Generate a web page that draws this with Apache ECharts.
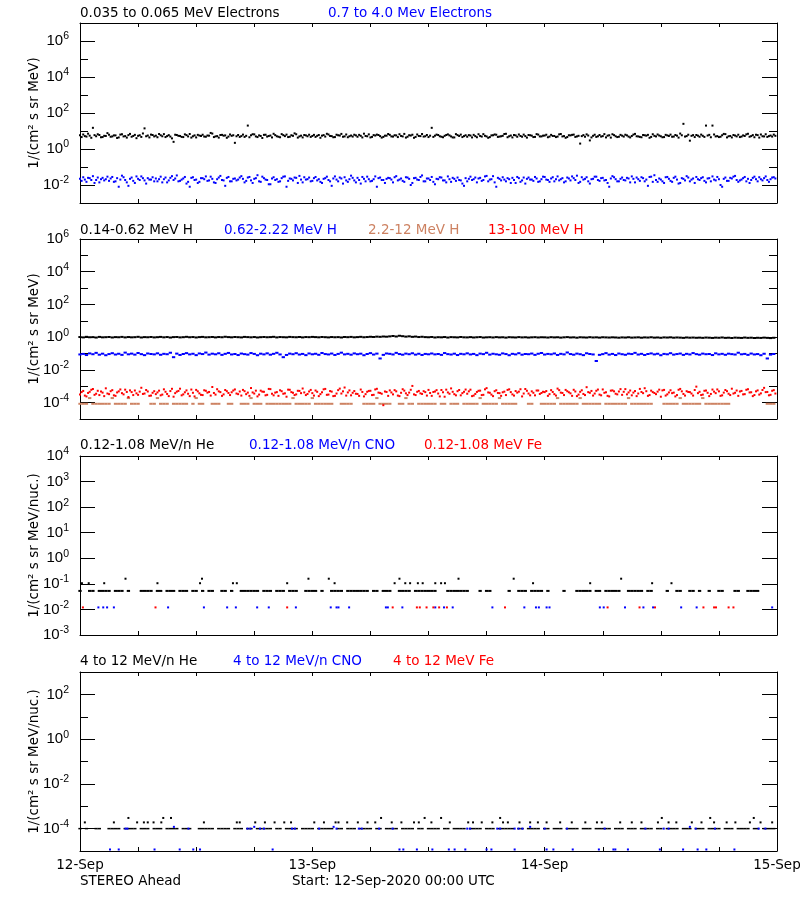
<!DOCTYPE html>
<html>
<head>
<meta charset="utf-8">
<script src="https://cdn.jsdelivr.net/npm/echarts@6/dist/echarts.min.js"></script>
<style>html,body{margin:0;padding:0;background:#fff}#chart{width:800px;height:900px}</style>
</head>
<body>
<div id="chart"></div>
<script>
// ---- time base: samples start 12-Sep-2020 00:00 UTC; x axis is hours since start ----
const FAST_STEP_HOURS = 10 / 60;   // 10-minute samples
const STEP_HOURS = 20 / 60;        // 20-minute samples
const dayLabels = ['12-Sep', '13-Sep', '14-Sep', '15-Sep'];

// ---- Panel 1: electrons (10-minute samples) ----
const eLow = [ // 0.035 to 0.065 MeV Electrons
5.8,4.6,6.4,5.2,4.9,7.1,5.5,4.2,15,5.9,5.1,6.6,6.0,4.5,4.6,5.4,5.3,7.6,6.2,4.8,5.0,5.7,5.7,4.1,
4.4,6.3,6.6,5.0,5.2,4.3,5.9,6.9,4.8,5.3,6.1,4.0,5.4,5.8,4.7,7.3,14,5.1,5.6,4.4,6.3,6.0,5.0,5.5,
4.5,6.8,5.8,5.1,6.7,4.6,5.2,5.9,4.9,3.9,2.5,6.2,6.0,5.4,5.3,4.7,4.6,6.5,5.9,5.0,6.8,4.3,5.1,5.7,
4.4,6.1,5.6,5.3,6.2,4.9,4.8,5.6,5.5,7.8,7.2,4.6,5.0,5.2,4.3,6.0,6.1,5.5,5.7,4.2,4.9,6.4,5.4,5.8,
2.2,5.1,6.0,4.7,5.2,6.3,4.7,5.4,20,4.5,5.8,6.6,6.5,5.0,4.6,5.7,5.3,4.1,6.1,6.2,4.9,5.3,5.6,4.4,
7.0,5.9,5.1,4.8,4.5,6.7,5.9,5.2,6.3,4.6,4.8,5.8,5.4,7.4,6.6,4.3,5.0,5.5,4.4,6.0,5.7,5.1,6.2,4.7,
5.3,6.1,4.7,5.4,6.0,4.2,5.5,5.9,4.9,7.0,6.4,5.3,5.2,4.5,4.6,6.2,5.8,5.6,6.9,4.8,5.0,6.4,4.5,5.1,
5.6,4.9,6.2,5.7,4.8,6.1,5.4,4.4,7.1,5.3,5.1,6.5,4.4,4.7,5.9,5.6,6.3,6.0,5.2,4.3,4.7,5.5,5.5,6.8,
6.1,5.0,4.9,5.8,5.7,4.6,6.6,5.3,5.0,6.9,4.3,4.8,5.8,5.6,6.2,4.2,4.7,6.4,5.3,5.2,6.8,4.9,5.1,6.0,
4.6,5.5,15,4.7,5.5,6.3,6.0,5.1,4.8,4.5,5.4,6.0,6.5,5.7,5.0,4.4,4.4,6.7,5.9,5.3,6.3,4.6,5.2,5.8,
4.8,5.9,5.6,4.4,6.1,5.2,4.5,6.6,5.3,4.9,6.7,5.4,5.0,4.2,4.6,5.7,5.8,6.4,6.2,4.7,4.9,5.1,5.4,6.8,
7.0,4.5,5.1,5.6,4.4,6.0,5.7,4.8,6.4,5.3,4.8,6.3,5.2,4.3,6.0,5.8,5.5,4.6,4.7,6.7,6.3,5.0,5.0,5.5,
5.6,6.2,4.5,4.9,6.1,5.3,5.3,4.6,4.9,6.5,6.8,5.0,5.2,4.2,4.6,5.8,5.7,6.1,6.3,4.7,5.0,5.4,2.0,5.2,
5.9,4.8,6.5,5.6,3.0,4.4,5.4,6.2,4.7,5.1,6.0,4.9,5.2,6.7,4.4,5.5,5.8,4.3,6.6,5.9,5.1,4.6,4.8,6.1,
5.5,4.9,6.2,5.7,4.9,4.4,5.3,6.3,6.9,5.1,5.0,4.7,4.5,6.0,5.8,5.5,6.1,4.2,4.7,6.6,5.4,5.0,6.4,5.6,
5.1,4.5,4.6,6.1,5.7,5.3,6.3,4.8,4.9,6.0,5.5,4.3,7.2,5.8,25,4.9,5.2,6.2,2.9,5.4,5.9,4.6,6.0,5.5,
4.8,6.3,5.4,4.7,20,5.6,6.1,4.5,20,6.4,5.0,5.2,4.6,4.8,5.8,6.9,6.7,4.4,5.1,5.3,4.4,6.0,5.6,5.0,
6.2,4.6,4.9,5.7,5.3,6.5,7.0,4.8,5.2,5.9,4.5,6.2,5.9,4.3,6.4,5.1,5.0,6.6,4.7,5.2,5.6,4.9,6.3,5.4];
const eHigh = [ // 0.7 to 4.0 MeV Electrons
.022,.017,.027,.020,.015,.025,.024,.019,.031,.013,.019,.026,.014,.021,.025,.018,.021,.029,.017,.023,.028,.015,.016,.024,
.008,.020,.033,.027,.019,.014,.009,.022,.026,.017,.013,.030,.022,.019,.030,.024,.018,.012,.024,.020,.020,.027,.016,.023,
.016,.021,.029,.014,.021,.026,.014,.018,.025,.031,.019,.023,.034,.016,.017,.020,.023,.028,.012,.015,.008,.025,.027,.019,
.020,.013,.015,.024,.024,.021,.030,.017,.018,.029,.022,.014,.013,.021,.026,.032,.019,.018,.009,.025,.028,.016,.016,.022,
.023,.018,.020,.026,.031,.022,.014,.017,.026,.028,.018,.013,.022,.024,.035,.016,.015,.029,.024,.020,.019,.011,.011,.023,
.027,.019,.021,.015,.016,.024,.029,.030,.008,.017,.023,.022,.018,.026,.025,.013,.032,.020,.014,.027,.020,.021,.026,.016,
.017,.024,.028,.018,.021,.015,.013,.022,.024,.029,.019,.016,.009,.023,.030,.020,.016,.026,.023,.012,.027,.018,.015,.021,
.033,.025,.018,.014,.025,.019,.012,.028,.022,.016,.029,.021,.016,.017,.021,.030,.008,.024,.026,.019,.019,.013,.022,.025,
.024,.020,.014,.027,.031,.018,.020,.023,.017,.015,.027,.026,.022,.010,.013,.024,.025,.020,.019,.028,.034,.016,.016,.023,
.023,.019,.028,.015,.011,.022,.021,.027,.026,.018,.018,.014,.030,.021,.015,.025,.022,.017,.026,.019,.018,.012,.009,.024,
.016,.022,.029,.019,.021,.026,.014,.023,.025,.017,.019,.030,.032,.016,.020,.021,.031,.014,.008,.025,.022,.018,.027,.020,
.016,.024,.021,.013,.025,.019,.013,.028,.024,.015,.018,.026,.012,.022,.026,.020,.020,.017,.028,.023,.015,.016,.021,.029,
.028,.020,.019,.015,.023,.027,.016,.021,.030,.018,.021,.024,.014,.016,.026,.023,.018,.030,.024,.019,.033,.013,.015,.027,
.020,.022,.027,.016,.012,.021,.022,.029,.029,.019,.017,.024,.025,.018,.019,.013,.008,.023,.031,.027,.021,.016,.016,.022,
.026,.019,.018,.025,.023,.014,.030,.022,.014,.026,.021,.017,.027,.024,.016,.020,.009,.028,.029,.015,.035,.019,.015,.023,
.020,.016,.013,.027,.028,.022,.017,.015,.025,.029,.020,.012,.013,.024,.022,.018,.031,.026,.016,.020,.023,.013,.028,.021,
.019,.024,.027,.017,.014,.023,.024,.016,.030,.020,.018,.028,.021,.010,.008,.022,.026,.017,.017,.025,.023,.029,.032,.019,
.015,.018,.020,.024,.028,.016,.022,.013,.019,.025,.029,.021,.016,.027,.021,.018,.024,.030,.019,.015,.021,.026,.027,.023];

// ---- Panel 2: protons ----
const hLow = [ // 0.14-0.62 MeV H (20-minute samples)
1.02,0.97,1.05,0.99,1.01,0.95,1.04,0.98,1.00,1.03,0.96,1.01,0.99,1.04,0.97,1.02,0.98,1.00,1.05,0.96,1.01,0.99,1.03,0.97,
1.00,1.04,0.98,1.02,0.95,1.01,1.03,0.97,1.00,1.05,0.99,1.02,0.96,1.01,1.04,0.98,1.00,1.03,0.97,1.02,0.99,1.06,1.01,0.98,
1.03,1.00,0.97,1.04,1.01,0.98,1.02,0.96,1.00,1.03,0.99,1.01,1.05,0.97,1.02,1.00,0.98,1.04,1.01,0.99,1.03,0.97,1.02,1.00,
1.04,1.01,0.98,1.03,1.00,0.97,1.02,0.99,1.01,0.96,1.03,1.00,1.04,0.98,1.01,1.05,0.99,1.02,1.06,1.03,1.08,1.05,1.10,1.07,
1.12,1.18,1.10,1.22,1.15,1.08,1.13,1.05,1.09,1.02,1.06,1.01,0.99,1.03,0.96,1.00,0.98,1.02,0.95,1.01,0.99,0.97,1.03,0.98,
0.97,1.01,0.96,0.99,1.02,0.95,0.98,1.00,0.96,1.01,0.97,0.99,0.94,1.00,0.98,0.96,1.01,0.97,0.99,0.95,0.98,1.00,0.96,0.99,
0.98,0.95,1.00,0.97,0.99,0.94,0.98,1.01,0.96,0.98,0.93,0.99,0.97,0.95,1.00,0.96,0.98,0.94,0.99,0.97,0.95,0.98,0.96,0.93,
0.97,0.95,0.99,0.94,0.96,0.98,0.93,0.97,0.95,0.99,0.94,0.96,0.92,0.97,0.95,0.98,0.93,0.96,0.94,0.91,0.96,0.93,0.95,0.92,
0.94,0.91,0.95,0.93,0.90,0.94,0.92,0.96,0.91,0.93,0.89,0.94,0.92,0.90,0.95,0.91,0.93,0.89,0.92,0.90,0.94,0.91,0.88,0.92];
const hMid = [ // 0.62-2.22 MeV H (20-minute samples)
.088,.095,.081,.102,.091,.110,.085,.098,.079,.093,.105,.087,.097,.083,.114,.090,.099,.086,.108,.092,.080,.101,.094,.089,
.103,.084,.096,.091,.112,.060,.099,.082,.094,.106,.089,.097,.080,.101,.093,.115,.086,.098,.090,.104,.083,.096,.109,.088,
.094,.081,.100,.092,.086,.107,.095,.079,.098,.089,.103,.085,.096,.111,.088,.060,.082,.099,.091,.105,.087,.095,.080,.101,
.090,.097,.084,.108,.093,.088,.100,.082,.095,.113,.089,.096,.085,.102,.091,.098,.079,.094,.106,.087,.099,.050,.083,.101,
.096,.088,.110,.093,.085,.099,.091,.104,.086,.097,.082,.095,.090,.101,.089,.094,.083,.107,.092,.087,.098,.081,.096,.090,
.103,.088,.095,.080,.099,.092,.111,.086,.097,.090,.084,.102,.093,.079,.096,.089,.105,.085,.094,.091,.100,.083,.097,.108,
.087,.095,.090,.101,.082,.096,.089,.116,.093,.085,.099,.091,.080,.104,.094,.088,.035,.083,.092,.106,.086,.095,.081,.100,
.091,.084,.098,.093,.110,.087,.096,.082,.094,.102,.089,.097,.079,.095,.090,.105,.086,.093,.100,.083,.096,.088,.107,.092,
.085,.099,.091,.094,.081,.103,.089,.096,.084,.098,.092,.087,.112,.090,.095,.083,.100,.088,.093,.079,.097,.050,.086,.094];
const hHigh = [ // 2.2-12 MeV H (20-minute samples, null = no counts)
8.5e-5,8.5e-5,8.5e-5,1.9e-4,8.5e-5,8.5e-5,8.5e-5,8.5e-5,8.5e-5,8.5e-5,1.9e-4,8.5e-5,8.5e-5,8.5e-5,8.5e-5,1.9e-4,8.5e-5,8.5e-5,8.5e-5,null,null,null,8.5e-5,8.5e-5,
1.9e-4,8.5e-5,8.5e-5,8.5e-5,null,8.5e-5,8.5e-5,8.5e-5,8.5e-5,8.5e-5,null,8.5e-5,1.9e-4,8.5e-5,8.5e-5,null,null,8.5e-5,8.5e-5,8.5e-5,null,null,8.5e-5,8.5e-5,
null,null,8.5e-5,8.5e-5,8.5e-5,1.9e-4,8.5e-5,8.5e-5,8.5e-5,null,8.5e-5,8.5e-5,8.5e-5,8.5e-5,8.5e-5,8.5e-5,8.5e-5,8.5e-5,1.9e-4,8.5e-5,8.5e-5,8.5e-5,8.5e-5,8.5e-5,
1.9e-4,8.5e-5,8.5e-5,8.5e-5,8.5e-5,8.5e-5,8.5e-5,null,null,8.5e-5,8.5e-5,8.5e-5,8.5e-5,null,null,null,8.5e-5,8.5e-5,8.5e-5,8.5e-5,1.9e-4,8.5e-5,8.5e-5,8.5e-5,
8.5e-5,null,null,8.5e-5,8.5e-5,1.9e-4,8.5e-5,8.5e-5,null,8.5e-5,8.5e-5,8.5e-5,8.5e-5,8.5e-5,8.5e-5,null,8.5e-5,8.5e-5,null,8.5e-5,8.5e-5,8.5e-5,null,8.5e-5,
8.5e-5,8.5e-5,8.5e-5,8.5e-5,1.9e-4,8.5e-5,8.5e-5,8.5e-5,8.5e-5,8.5e-5,1.9e-4,8.5e-5,8.5e-5,8.5e-5,8.5e-5,8.5e-5,null,null,null,8.5e-5,8.5e-5,null,null,8.5e-5,
8.5e-5,8.5e-5,8.5e-5,8.5e-5,1.9e-4,8.5e-5,8.5e-5,8.5e-5,8.5e-5,8.5e-5,8.5e-5,1.9e-4,8.5e-5,8.5e-5,8.5e-5,8.5e-5,8.5e-5,8.5e-5,null,8.5e-5,8.5e-5,8.5e-5,8.5e-5,8.5e-5,
8.5e-5,8.5e-5,1.9e-4,8.5e-5,8.5e-5,8.5e-5,8.5e-5,8.5e-5,8.5e-5,8.5e-5,null,null,null,8.5e-5,8.5e-5,8.5e-5,8.5e-5,8.5e-5,1.9e-4,8.5e-5,8.5e-5,8.5e-5,8.5e-5,8.5e-5,
8.5e-5,1.9e-4,8.5e-5,8.5e-5,8.5e-5,8.5e-5,8.5e-5,8.5e-5,8.5e-5,8.5e-5,null,null,null,null,null,null,null,null,null,null,null,8.5e-5,8.5e-5,8.5e-5];
const hVeryHigh = [ // 13-100 MeV H (10-minute samples)
3.1e-4,4.4e-4,5.2e-4,2.7e-4,2.4e-4,3.9e-4,4.6e-4,6.1e-4,6.8e-4,3.0e-4,3.5e-4,5.3e-4,2.9e-4,4.8e-4,4.1e-4,2.5e-4,7.5e-4,3.6e-4,3.3e-4,5.0e-4,5.8e-4,2.8e-4,2.6e-4,4.2e-4,
4.9e-4,6.4e-4,3.8e-4,3.2e-4,6.2e-4,4.5e-4,2.2e-4,5.6e-4,4.4e-4,2.9e-4,5.5e-4,3.7e-4,3.0e-4,4.7e-4,8.1e-4,3.4e-4,3.6e-4,5.9e-4,4.8e-4,2.6e-4,2.7e-4,4.0e-4,5.0e-4,3.3e-4,
4.2e-4,5.4e-4,2.8e-4,3.1e-4,6.5e-4,4.6e-4,3.4e-4,2.5e-4,5.1e-4,7.0e-4,2.3e-4,3.8e-4,4.7e-4,5.2e-4,7.1e-4,2.8e-4,3.2e-4,4.3e-4,5.6e-4,3.5e-4,2.5e-4,6.3e-4,4.0e-4,2.4e-4,
6.0e-4,4.9e-4,3.7e-4,3.0e-4,2.9e-4,5.7e-4,5.3e-4,4.1e-4,4.5e-4,2.7e-4,9.0e-4,3.9e-4,3.1e-4,6.6e-4,4.9e-4,4.4e-4,2.6e-4,3.2e-4,5.9e-4,5.0e-4,3.9e-4,2.9e-4,4.3e-4,5.5e-4,
6.4e-4,3.6e-4,3.3e-4,4.8e-4,2.7e-4,6.0e-4,5.0e-4,3.3e-4,4.1e-4,2.6e-4,7.8e-4,4.2e-4,3.6e-4,5.4e-4,2.4e-4,3.1e-4,5.4e-4,4.7e-4,4.6e-4,2.8e-4,3.0e-4,6.9e-4,6.7e-4,3.5e-4,
2.8e-4,4.1e-4,4.4e-4,2.6e-4,5.7e-4,5.0e-4,3.5e-4,3.7e-4,2.3e-4,6.2e-4,6.1e-4,4.4e-4,4.0e-4,2.9e-4,3.2e-4,5.3e-4,5.2e-4,3.8e-4,7.3e-4,4.2e-4,2.9e-4,3.4e-4,4.8e-4,6.0e-4,
3.8e-4,2.7e-4,5.5e-4,4.6e-4,2.5e-4,3.3e-4,4.3e-4,6.5e-4,6.9e-4,3.0e-4,3.1e-4,5.1e-4,4.7e-4,2.5e-4,2.6e-4,3.6e-4,5.8e-4,7.2e-4,3.6e-4,4.9e-4,8.4e-4,2.7e-4,4.2e-4,5.6e-4,
2.8e-4,4.0e-4,5.1e-4,3.5e-4,3.4e-4,2.6e-4,6.3e-4,4.5e-4,2.4e-4,3.3e-4,4.6e-4,5.2e-4,5.3e-4,2.9e-4,3.0e-4,6.4e-4,7.0e-4,4.1e-4,3.9e-4,3.5e-4,7.0e-5,4.8e-4,4.5e-4,2.6e-4,
5.6e-4,4.2e-4,3.2e-4,5.8e-4,4.9e-4,2.7e-4,2.5e-4,4.0e-4,6.6e-4,5.4e-4,3.7e-4,2.9e-4,4.1e-4,6.1e-4,1.05e-3,3.2e-4,2.9e-4,4.6e-4,5.2e-4,3.7e-4,3.4e-4,5.0e-4,4.4e-4,2.7e-4,
6.0e-4,3.9e-4,2.6e-4,4.5e-4,4.8e-4,5.8e-4,3.6e-4,2.4e-4,5.9e-4,4.3e-4,2.3e-4,6.2e-4,4.2e-4,3.5e-4,7.4e-4,4.6e-4,3.3e-4,2.8e-4,5.0e-4,5.9e-4,2.8e-4,3.8e-4,4.6e-4,6.3e-4,
3.5e-4,4.9e-4,6.2e-4,2.5e-4,2.7e-4,3.4e-4,4.5e-4,5.3e-4,5.4e-4,2.9e-4,3.0e-4,6.5e-4,7.7e-4,4.2e-4,4.0e-4,3.1e-4,2.5e-4,5.0e-4,5.7e-4,3.9e-4,3.8e-4,2.6e-4,4.3e-4,4.7e-4,
2.9e-4,6.0e-4,6.5e-4,4.4e-4,3.2e-4,2.7e-4,5.1e-4,4.1e-4,4.7e-4,6.6e-4,2.4e-4,3.6e-4,6.8e-4,5.3e-4,3.6e-4,2.8e-4,4.9e-4,4.0e-4,2.8e-4,5.5e-4,5.5e-4,3.4e-4,3.9e-4,4.6e-4,
4.4e-4,5.1e-4,2.6e-4,3.3e-4,5.8e-4,4.5e-4,3.3e-4,2.7e-4,7.2e-4,5.8e-4,4.1e-4,3.9e-4,2.9e-4,6.0e-4,5.0e-4,4.3e-4,3.7e-4,2.6e-4,6.1e-4,4.8e-4,2.5e-4,3.1e-4,4.6e-4,5.7e-4,
3.4e-4,2.9e-4,8.8e-4,4.4e-4,4.0e-4,5.2e-4,2.7e-4,3.6e-4,5.3e-4,6.3e-4,3.1e-4,2.8e-4,6.4e-4,4.0e-4,4.3e-4,2.6e-4,2.4e-4,5.4e-4,5.6e-4,4.9e-4,3.5e-4,3.2e-4,4.8e-4,6.7e-4,
3.0e-4,4.6e-4,6.7e-4,3.2e-4,4.2e-4,5.5e-4,2.8e-4,4.1e-4,5.1e-4,2.5e-4,3.6e-4,6.9e-4,4.5e-4,3.8e-4,7.6e-4,5.0e-4,2.6e-4,2.9e-4,5.4e-4,4.4e-4,3.9e-4,3.3e-4,4.7e-4,6.2e-4,
2.3e-4,5.6e-4,6.0e-4,2.7e-4,3.2e-4,4.2e-4,5.7e-4,3.8e-4,4.1e-4,2.4e-4,2.9e-4,6.1e-4,6.9e-4,4.9e-4,3.4e-4,2.7e-4,5.0e-4,4.5e-4,4.4e-4,3.6e-4,2.7e-4,5.9e-4,9.5e-4,3.8e-4,
4.6e-4,2.9e-4,3.1e-4,5.3e-4,5.5e-4,4.0e-4,2.5e-4,3.4e-4,6.3e-4,4.7e-4,3.8e-4,6.4e-4,4.9e-4,2.6e-4,2.8e-4,4.1e-4,5.9e-4,5.0e-4,3.5e-4,2.9e-4,7.1e-4,3.6e-4,4.0e-4,5.5e-4,
2.6e-4,4.8e-4,5.2e-4,3.2e-4,3.3e-4,6.1e-4,6.6e-4,4.2e-4,4.3e-4,2.5e-4,2.9e-4,4.9e-4,5.6e-4,3.1e-4,3.7e-4,5.9e-4,8.0e-4,4.4e-4,4.5e-4,2.8e-4,3.0e-4,5.3e-4,5.8e-4,3.6e-4];

// ---- Panel 3: 0.12-1.08 MeV/n heavy ions ----
const heLow = [ // 0.12-1.08 MeV/n He, 20-minute samples (null = no counts)
.053,null,null,.053,.053,null,.053,.053,.053,.053,null,.053,.053,.053,null,.053,null,null,null,.053,.053,.053,.053,null,
.053,.053,null,.053,.053,.053,null,.053,.053,.053,null,.053,.053,null,.053,null,.053,.053,null,null,.053,.053,null,.053,
null,null,.053,.053,.053,.053,.053,.053,null,.053,.053,.053,null,.053,.053,.053,null,.053,.053,.053,null,null,.053,.053,
.053,.053,null,.053,null,null,.053,.053,.053,.053,null,.053,.053,.053,.053,.053,.053,.053,null,.053,.053,null,.053,.053,
.053,null,null,.053,.053,.053,.053,null,.053,.053,.053,.053,.053,.053,.053,null,null,null,.053,.053,.053,.053,.053,.053,
.053,null,null,null,.053,null,.053,.053,null,null,null,null,null,.053,null,null,.053,.053,.053,null,.053,.053,.053,.053,
null,.053,null,null,null,null,.053,null,null,null,.053,.053,.053,.053,.053,null,.053,.053,null,.053,.053,.053,.053,.053,
null,null,.053,.053,.053,.053,.053,null,.053,.053,null,null,null,null,.053,null,null,.053,.053,null,null,.053,.053,null,
.053,null,null,.053,null,null,.053,.053,null,null,null,.053,.053,null,null,.053,.053,.053,.053,null,null,null,null,null];
const heLowExtraHours = [0.2,0.9,2.5,8.0,12.4,15.8,16.2,21.4,26.3,32.5,33.6,34.1,34.9,35.4,36.7,37.3,37.7,46.8,52.7,59.1,61.1,
  4.7,12.6,23.6,25.7,33.0,39.1,44.8,55.9];
const heLowExtraVals = [.106,.106,.106,.106,.106,.106,.106,.106,.106,.106,.106,.106,.106,.106,.106,.106,.106,.106,.106,.106,.106,
  .159,.159,.159,.159,.159,.159,.159,.159];
const cnoLowHours = [1.9,2.4,2.8,3.5,9.1,12.8,15.2,16.1,18.3,19.5,22.3,25.9,26.5,26.7,27.8,31.6,31.8,33.3,36.7,37.6,
  38.5,42.6,45.9,47.1,47.4,48.2,48.5,53.7,54.1,56.3,58.2,59.2,62.1,63.7,71.5];
const cnoLowVals = [.012,.012,.012,.012,.012,.012,.012,.012,.012,.012,.012,.012,.012,.012,.012,.012,.012,.012,.012,.012,
  .012,.012,.012,.012,.012,.012,.012,.012,.012,.012,.012,.012,.012,.012,.012];
const feLowHours = [0.3,7.8,21.4,32.3,34.8,35.1,35.8,36.5,37.1,37.9,43.9,54.5,57.8,59.4,64.4,65.5,65.7,67.0,67.5];
const feLowVals = [.012,.012,.012,.012,.012,.012,.012,.012,.012,.012,.012,.012,.012,.012,.012,.012,.012,.012,.012];

// ---- Panel 4: 4 to 12 MeV/n heavy ions ----
const heHigh = [ // 4 to 12 MeV/n He, 20-minute samples (null = no counts)
1e-4,null,1e-4,null,null,1e-4,1e-4,null,null,1e-4,1e-4,1e-4,1e-4,null,1e-4,1e-4,1e-4,1e-4,null,1e-4,1e-4,1e-4,null,1e-4,
1e-4,1e-4,null,1e-4,1e-4,1e-4,1e-4,null,1e-4,1e-4,1e-4,null,null,1e-4,1e-4,1e-4,1e-4,1e-4,null,1e-4,1e-4,1e-4,1e-4,null,
1e-4,1e-4,1e-4,null,1e-4,1e-4,null,1e-4,1e-4,1e-4,1e-4,1e-4,null,1e-4,1e-4,null,1e-4,1e-4,1e-4,1e-4,null,1e-4,1e-4,1e-4,
1e-4,null,1e-4,1e-4,1e-4,1e-4,1e-4,null,1e-4,1e-4,null,1e-4,1e-4,1e-4,null,1e-4,1e-4,1e-4,1e-4,null,1e-4,1e-4,null,1e-4,
1e-4,1e-4,1e-4,null,1e-4,1e-4,1e-4,1e-4,null,1e-4,1e-4,null,1e-4,1e-4,1e-4,1e-4,null,1e-4,1e-4,null,1e-4,1e-4,1e-4,1e-4,
null,1e-4,1e-4,1e-4,1e-4,null,1e-4,1e-4,1e-4,null,1e-4,1e-4,1e-4,1e-4,1e-4,null,1e-4,1e-4,null,1e-4,1e-4,1e-4,1e-4,null,
1e-4,1e-4,null,1e-4,1e-4,1e-4,null,1e-4,1e-4,1e-4,1e-4,null,1e-4,1e-4,1e-4,null,1e-4,1e-4,1e-4,1e-4,1e-4,null,1e-4,1e-4,
1e-4,null,1e-4,1e-4,1e-4,null,1e-4,1e-4,1e-4,1e-4,null,1e-4,1e-4,null,1e-4,1e-4,1e-4,1e-4,null,1e-4,1e-4,1e-4,null,1e-4,
1e-4,1e-4,null,1e-4,1e-4,1e-4,1e-4,null,1e-4,1e-4,1e-4,null,1e-4,1e-4,1e-4,1e-4,null,1e-4,1e-4,null,1e-4,1e-4,1e-4,1e-4];
const heHighExtraHours = [0.5,3.5,5.9,6.6,7.0,7.6,8.4,12.8,16.2,16.5,18.1,19.1,20.1,21.1,21.8,24.2,25.2,26.4,26.7,27.6,28.7,29.7,30.5,32.2,33.2,34.5,35.0,
  36.3,38.2,40.1,40.6,41.5,42.6,43.7,44.2,45.4,46.5,47.3,48.2,49.6,50.8,52.2,53.4,53.9,55.8,57.0,58.0,59.7,60.8,61.6,63.2,64.2,65.5,66.8,67.7,69.2,70.3,71.5,
  5.0,8.6,9.4,31.1,35.6,37.3,43.4,60.1,65.1,69.6];
const heHighExtraVals = [1.9e-4,1.9e-4,1.9e-4,1.9e-4,1.9e-4,1.9e-4,1.9e-4,1.9e-4,1.9e-4,1.9e-4,1.9e-4,1.9e-4,1.9e-4,1.9e-4,1.9e-4,1.9e-4,1.9e-4,1.9e-4,1.9e-4,1.9e-4,1.9e-4,1.9e-4,1.9e-4,1.9e-4,1.9e-4,1.9e-4,1.9e-4,
  1.9e-4,1.9e-4,1.9e-4,1.9e-4,1.9e-4,1.9e-4,1.9e-4,1.9e-4,1.9e-4,1.9e-4,1.9e-4,1.9e-4,1.9e-4,1.9e-4,1.9e-4,1.9e-4,1.9e-4,1.9e-4,1.9e-4,1.9e-4,1.9e-4,1.9e-4,1.9e-4,1.9e-4,1.9e-4,1.9e-4,1.9e-4,1.9e-4,1.9e-4,1.9e-4,1.9e-4,
  3e-4,3e-4,3e-4,3e-4,3e-4,3e-4,3e-4,3e-4,3e-4,3e-4];
const cnoHighHours = [3.1,4.0,7.7,10.3,11.7,12.4,19.9,33.0,33.4,34.8,36.4,38.1,38.7,39.8,42.0,42.5,44.9,48.2,48.9,50.9,53.6,55.1,55.3,56.6,59.9,62.3,63.8,64.7,67.6,
  4.7,4.9,11.2,17.3,17.6,18.6,19.0,21.9,22.2,24.7,26.5,28.8,29.1,30.9,32.3,40.0,40.3,43.1,43.4,44.9,45.3,45.7,48.0,50.3,54.2,58.4,60.3,60.8,63.6,65.6,70.1,70.8,
  9.7,18.0,26.2,46.5,63.0];
const cnoHighVals = [1.17e-5,1.17e-5,1.17e-5,1.17e-5,1.17e-5,1.17e-5,1.17e-5,1.17e-5,1.17e-5,1.17e-5,1.17e-5,1.17e-5,1.17e-5,1.17e-5,1.17e-5,1.17e-5,1.17e-5,1.17e-5,1.17e-5,1.17e-5,1.17e-5,1.17e-5,1.17e-5,1.17e-5,1.17e-5,1.17e-5,1.17e-5,1.17e-5,1.17e-5,
  1e-4,1e-4,1e-4,1e-4,1e-4,1e-4,1e-4,1e-4,1e-4,1e-4,1e-4,1e-4,1e-4,1e-4,1e-4,1e-4,1e-4,1e-4,1e-4,1e-4,1e-4,1e-4,1e-4,1e-4,1e-4,1e-4,1e-4,1e-4,1e-4,1e-4,1e-4,1e-4,
  1.2e-4,1.2e-4,1.2e-4,1.2e-4,1.2e-4];
const feHighHours = [];
const feHighVals = [];

// ---- y-axis ticks per panel ----
const p1Major = [1e-2, 1, 1e2, 1e4, 1e6], p1Minor = [1e-1, 10, 1e3, 1e5];
const p2Major = [1e-4, 1e-2, 1, 1e2, 1e4, 1e6], p2Minor = [1e-3, 1e-1, 10, 1e3, 1e5];
const p3Major = [1e-3, 1e-2, 1e-1, 1, 10, 1e2, 1e3, 1e4], p3Minor = [];
const p4Major = [1e-4, 1e-2, 1, 1e2], p4Minor = [1e-3, 1e-1, 10];

const BLACK = '#000000', BLUE = '#0000ff', RED = '#ff0000', TAN = '#cd8262';
const FONT = "'DejaVu Sans', sans-serif";
const LBL_FONT = "'Liberation Sans Narrow', 'Liberation Sans', 'DejaVu Sans', sans-serif";

const panels = [
  {top: 23, height: 180, min: 1e-3, max: 1e7, major: p1Major, minor: p1Minor, yName: '1/(cm\u00b2 s sr MeV)',
   titleY: 13, titles: [['0.035 to 0.065 MeV Electrons', 80, BLACK], ['0.7 to 4.0 Mev Electrons', 328, BLUE]]},
  {top: 239, height: 180, min: 1e-5, max: 1e6, major: p2Major, minor: p2Minor, yName: '1/(cm\u00b2 s sr MeV)',
   titleY: 230, titles: [['0.14-0.62 MeV H', 80, BLACK], ['0.62-2.22 MeV H', 224, BLUE], ['2.2-12 MeV H', 368, TAN], ['13-100 MeV H', 488, RED]]},
  {top: 456, height: 179, min: 1e-3, max: 1e4, major: p3Major, minor: p3Minor, yName: '1/(cm\u00b2 s sr MeV/nuc.)',
   titleY: 445, titles: [['0.12-1.08 MeV/n He', 80, BLACK], ['0.12-1.08 MeV/n CNO', 249, BLUE], ['0.12-1.08 MeV Fe', 424, RED]]},
  {top: 672, height: 179, min: 1e-5, max: 1e3, major: p4Major, minor: p4Minor, yName: '1/(cm\u00b2 s sr MeV/nuc.)',
   titleY: 661, titles: [['4 to 12 MeV/n He', 80, BLACK], ['4 to 12 MeV/n CNO', 233, BLUE], ['4 to 12 MeV Fe', 393, RED]]}
];

function denseData(vals, step) {
  const out = [];
  vals.forEach((v, i) => { if (v !== null) out.push([i * step, v]); });
  return out;
}
function pairData(hours, vals) { return hours.map((h, i) => [h, vals[i]]); }

const grids = [], xAxes = [], yAxes = [], graphics = [];
panels.forEach((p, g) => {
  grids.push({left: 80, right: 23, top: p.top, height: p.height, containLabel: false, outerBoundsMode: 'none'});
  const last = g === panels.length - 1;
  ['bottom', 'top'].forEach(pos => {
    xAxes.push({
      type: 'value', gridIndex: g, position: pos, min: 0, max: 72, interval: 6,
      axisLine: {show: true, onZero: false, lineStyle: {color: BLACK, width: 1}},
      axisTick: {show: true, inside: true, length: 4, lineStyle: {color: BLACK}},
      axisLabel: {show: last && pos === 'bottom', margin: 7, color: BLACK, fontFamily: FONT, fontSize: 13.5,
        showMinLabel: true, showMaxLabel: true,
        formatter: v => (Math.abs(v % 24) < 1e-9 ? dayLabels[Math.round(v / 24)] : '')},
      splitLine: {show: false}
    });
  });
  ['left', 'right'].forEach(pos => {
    yAxes.push({
      type: 'log', logBase: 10, gridIndex: g, position: pos, min: p.min, max: p.max,
      axisLine: {show: true, onZero: false, lineStyle: {color: BLACK, width: 1}},
      axisTick: {show: true, inside: true, length: 15, customValues: p.major, lineStyle: {color: BLACK}},
      axisLabel: {show: pos === 'left', customValues: p.major, margin: 11, color: BLACK,
        formatter: v => '{b|10}{s|' + Math.round(Math.log10(v)) + '}',
        rich: {b: {fontFamily: LBL_FONT, fontSize: 15, color: BLACK},
               s: {fontFamily: LBL_FONT, fontSize: 10.5, color: BLACK, padding: [0, 0, 9, 0]}}},
      splitLine: {show: false},
      name: pos === 'left' ? p.yName : '', nameLocation: 'middle', nameGap: 39, nameRotate: 90,
      nameMoveOverlap: false,
      nameTextStyle: {fontFamily: FONT, fontSize: 13.5, color: BLACK}
    });
    yAxes.push({
      type: 'log', logBase: 10, gridIndex: g, position: pos, min: p.min, max: p.max,
      axisLine: {show: false, onZero: false},
      axisTick: {show: p.minor.length > 0, inside: true, length: 8,
        customValues: p.minor.length > 0 ? p.minor : undefined, lineStyle: {color: BLACK}},
      axisLabel: {show: false}, splitLine: {show: false}
    });
  });
  p.titles.forEach(t => graphics.push({type: 'text', x: t[1], y: p.titleY, silent: true,
    style: {text: t[0], fill: t[2], font: "13.5px 'DejaVu Sans'", align: 'left', verticalAlign: 'middle'}}));
});
graphics.push({type: 'text', x: 80, y: 881, silent: true,
  style: {text: 'STEREO Ahead', fill: BLACK, font: "13.5px 'DejaVu Sans'", align: 'left', verticalAlign: 'middle'}});
graphics.push({type: 'text', x: 292, y: 881, silent: true,
  style: {text: 'Start: 12-Sep-2020 00:00 UTC', fill: BLACK, font: "13.5px 'DejaVu Sans'", align: 'left', verticalAlign: 'middle'}});

function sc(name, g, data, color, size) {
  return {name, type: 'scatter', xAxisIndex: 2 * g, yAxisIndex: 4 * g, data, symbol: 'rect',
    symbolSize: size, itemStyle: {color, opacity: 1}, silent: true, animation: false};
}
const series = [
  sc('0.035 to 0.065 MeV Electrons', 0, denseData(eLow, FAST_STEP_HOURS), BLACK, [2, 2]),
  sc('0.7 to 4.0 Mev Electrons', 0, denseData(eHigh, FAST_STEP_HOURS), BLUE, [2, 2]),
  sc('0.14-0.62 MeV H', 1, denseData(hLow, STEP_HOURS), BLACK, [3.3, 2]),
  sc('0.62-2.22 MeV H', 1, denseData(hMid, STEP_HOURS), BLUE, [3.3, 2]),
  sc('2.2-12 MeV H', 1, denseData(hHigh, STEP_HOURS), TAN, [3.3, 2]),
  sc('13-100 MeV H', 1, denseData(hVeryHigh, FAST_STEP_HOURS), RED, [2, 2]),
  sc('0.12-1.08 MeV/n He', 2, denseData(heLow, STEP_HOURS), BLACK, [3.3, 2]),
  sc('0.12-1.08 MeV/n He ', 2, pairData(heLowExtraHours, heLowExtraVals), BLACK, [2, 2]),
  sc('0.12-1.08 MeV/n CNO', 2, pairData(cnoLowHours, cnoLowVals), BLUE, [2, 2]),
  sc('0.12-1.08 MeV Fe', 2, pairData(feLowHours, feLowVals), RED, [2, 2]),
  sc('4 to 12 MeV/n He', 3, denseData(heHigh, STEP_HOURS), BLACK, [3.3, 1.5]),
  sc('4 to 12 MeV/n He ', 3, pairData(heHighExtraHours, heHighExtraVals), BLACK, [2, 2]),
  sc('4 to 12 MeV/n CNO', 3, pairData(cnoHighHours, cnoHighVals), BLUE, [2, 2]),
  sc('4 to 12 MeV Fe', 3, pairData(feHighHours, feHighVals), RED, [2, 2])
];

const chart = echarts.init(document.getElementById('chart'), null, {renderer: 'canvas'});
chart.setOption({
  animation: false,
  backgroundColor: '#ffffff',
  grid: grids, xAxis: xAxes, yAxis: yAxes, series, graphic: graphics
});
</script>
</body>
</html>
